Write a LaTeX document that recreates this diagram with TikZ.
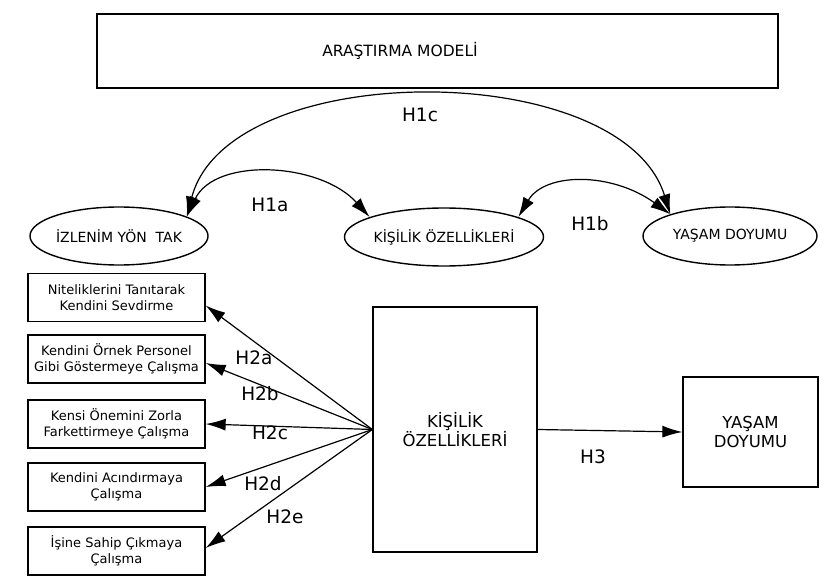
\documentclass[tikz,border=0pt]{standalone}
\usepackage{fontspec}
\setmainfont{DejaVu Sans}
\usetikzlibrary{shapes.geometric,arrows.meta}

\begin{document}
\begin{tikzpicture}[x=1pt,y=-1pt,
  oval/.style={draw, line width=1.4pt, ellipse, minimum width=174pt, minimum height=58pt, inner sep=0pt, font=\fontsize{14}{16}\selectfont},
  kutu/.style={draw, line width=1.3pt, minimum width=177pt, minimum height=48pt, inner sep=0pt, align=center, font=\fontsize{13}{15.5}\selectfont},
  buyuk/.style={draw, line width=1.3pt, inner sep=0pt, align=center, font=\fontsize{16.5}{19}\selectfont},
  ok/.style={line width=1.2pt, -{Latex[length=20pt,width=12pt]}},
  cift/.style={line width=1.2pt, {Latex[length=20pt,width=12pt]}-{Latex[length=20pt,width=12pt]}},
  hip/.style={font=\fontsize{18.5}{21}\selectfont}]
  \useasboundingbox (0,0) rectangle (824,577);
  % title
  \node[draw, line width=1.3pt, minimum width=681pt, minimum height=74pt] (baslik) at (437.5,51) {};
  \node[font=\fontsize{15.5}{17}\selectfont] (baslikyazi) at (400,51) {ARAŞTIRMA MODELİ};
  % upper row
  \node[oval] (izl) at (119,236) {İZLENİM YÖN\ \ TAK};
  \node[oval] (kis) at (444,237) {KİŞİLİK ÖZELLİKLERİ};
  \node[oval] (yas) at (730,236) {YAŞAM DOYUMU};
  \draw[cift] (izl.16) .. controls (228,57) and (622,57) .. (yas.160);
  \draw[cift] (izl.16) .. controls (215,157) and (320,162) .. (kis.165);
  \draw[cift] (kis.15) .. controls (545,172) and (612,172) .. (yas.160);
  \node[hip] (h1c) at (420,115) {H1c};
  \node[hip] (h1a) at (270,205) {H1a};
  \node[hip] (h1b) at (590,224) {H1b};
  % lower part
  \node[kutu] (b1) at (116.5,297.5) {Niteliklerini Tanıtarak\\Kendini Sevdirme};
  \node[kutu] (b2) at (116.5,359) {Kendini Örnek Personel\\Gibi Göstermeye Çalışma};
  \node[kutu] (b3) at (116.5,424) {Kensi Önemini Zorla\\Farkettirmeye Çalışma};
  \node[kutu] (b4) at (116.5,487) {Kendini Acındırmaya\\Çalışma};
  \node[kutu] (b5) at (116.5,551) {İşine Sahip Çıkmaya\\Çalışma};
  \node[buyuk, minimum width=164pt, minimum height=245pt] (kisb) at (455,429.5) {KİŞİLİK\\ÖZELLİKLERİ};
  \node[buyuk, minimum width=135pt, minimum height=110pt] (yasb) at (750.5,432) {YAŞAM\\DOYUMU};
  \draw[ok] (kisb.west) -- ([yshift=-8pt]b1.east);
  \draw[ok] (kisb.west) -- ([yshift=-4pt]b2.east);
  \draw[ok] (kisb.west) -- (b3.east);
  \draw[ok] (kisb.west) -- (b4.east);
  \draw[ok] (kisb.west) -- ([yshift=3pt]b5.east);
  \draw[ok] (kisb.east) -- (yasb.west);
  \node[hip] (h2a) at (254,358) {H2a};
  \node[hip] (h2b) at (260,394) {H2b};
  \node[hip] (h2c) at (270,433) {H2c};
  \node[hip] (h2d) at (263,484) {H2d};
  \node[hip] (h2e) at (285,517) {H2e};
  \node[hip] (h3) at (593,457) {H3};
\end{tikzpicture}
\end{document}
